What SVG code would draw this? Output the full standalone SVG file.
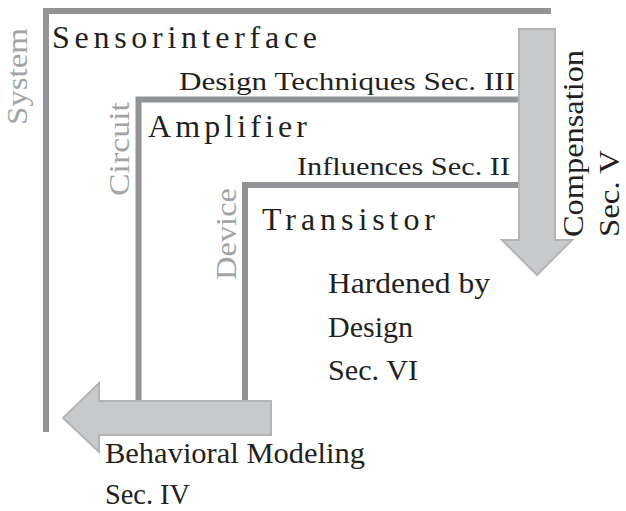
<svg xmlns="http://www.w3.org/2000/svg" width="626" height="511" viewBox="0 0 626 511">
<style>
.bar{fill:none;stroke:#929397;stroke-width:6;stroke-linejoin:miter;stroke-linecap:butt}
.arrow{fill:#c8c9cb;stroke:#b3b4b6;stroke-width:2}
text{font-family:'Liberation Serif','DejaVu Serif',serif}
.t{fill:#231f20}
.title{font-size:32px}
.mid{font-size:29px}
.small{font-size:25px}
.lvl{font-size:29px;fill:#a2a3a6}
</style>
<rect width="626" height="511" fill="#ffffff"/>
<g id="connectors">
<path class="bar" d="M46,432 V11 H551"/>
<path class="bar" d="M138.5,401 V99.5 H519"/>
<path class="bar" d="M245,401 V185 H519"/>
<polygon id="compensation-arrow" class="arrow" points="519,29 555,29 555,240 572,240 537,275 502,240 519,240"/>
<polygon id="modeling-arrow" class="arrow" points="271,401 271,435 99,435 99,452 63,418 99,383 99,401"/>
</g>
<g id="system">
<text class="lvl" font-family="Liberation Serif, serif" transform="translate(27,125) rotate(-90)" textLength="97" lengthAdjust="spacingAndGlyphs">System</text>
<text class="t title" font-family="Liberation Serif, serif" x="52" y="48" textLength="265" lengthAdjust="spacing">Sensorinterface</text>
</g>
<g id="design-techniques">
<text class="t small" font-family="Liberation Serif, serif" x="179" y="90" textLength="336" lengthAdjust="spacingAndGlyphs">Design Techniques Sec. III</text>
</g>
<g id="circuit">
<text class="lvl" font-family="Liberation Serif, serif" transform="translate(129,196) rotate(-90)" textLength="94" lengthAdjust="spacingAndGlyphs">Circuit</text>
<text class="t title" font-family="Liberation Serif, serif" x="148" y="137" textLength="159" lengthAdjust="spacing">Amplifier</text>
</g>
<g id="influences">
<text class="t small" font-family="Liberation Serif, serif" x="297" y="175" textLength="213" lengthAdjust="spacingAndGlyphs">Influences Sec. II</text>
</g>
<g id="device">
<text class="lvl" font-family="Liberation Serif, serif" transform="translate(236,280) rotate(-90)" textLength="92" lengthAdjust="spacingAndGlyphs">Device</text>
<text class="t title" font-family="Liberation Serif, serif" x="262" y="230" textLength="173" lengthAdjust="spacing">Transistor</text>
</g>
<g id="compensation">
<text class="t mid" font-family="Liberation Serif, serif" transform="translate(583,237) rotate(-90)" textLength="187" lengthAdjust="spacingAndGlyphs">Compensation</text>
<text class="t mid" font-family="Liberation Serif, serif" transform="translate(619,237) rotate(-90)" textLength="87" lengthAdjust="spacingAndGlyphs">Sec. V</text>
</g>
<g id="hardened">
<text class="t mid" font-family="Liberation Serif, serif" x="328" y="293" textLength="162" lengthAdjust="spacingAndGlyphs">Hardened by</text>
<text class="t mid" font-family="Liberation Serif, serif" x="328" y="337" textLength="85" lengthAdjust="spacingAndGlyphs">Design</text>
<text class="t mid" font-family="Liberation Serif, serif" x="328" y="380" textLength="90" lengthAdjust="spacingAndGlyphs">Sec. VI</text>
</g>
<g id="behavioral">
<text class="t mid" font-family="Liberation Serif, serif" x="105" y="463" textLength="260" lengthAdjust="spacingAndGlyphs">Behavioral Modeling</text>
<text class="t mid" font-family="Liberation Serif, serif" x="105" y="504" textLength="85" lengthAdjust="spacingAndGlyphs">Sec. IV</text>
</g>
</svg>
